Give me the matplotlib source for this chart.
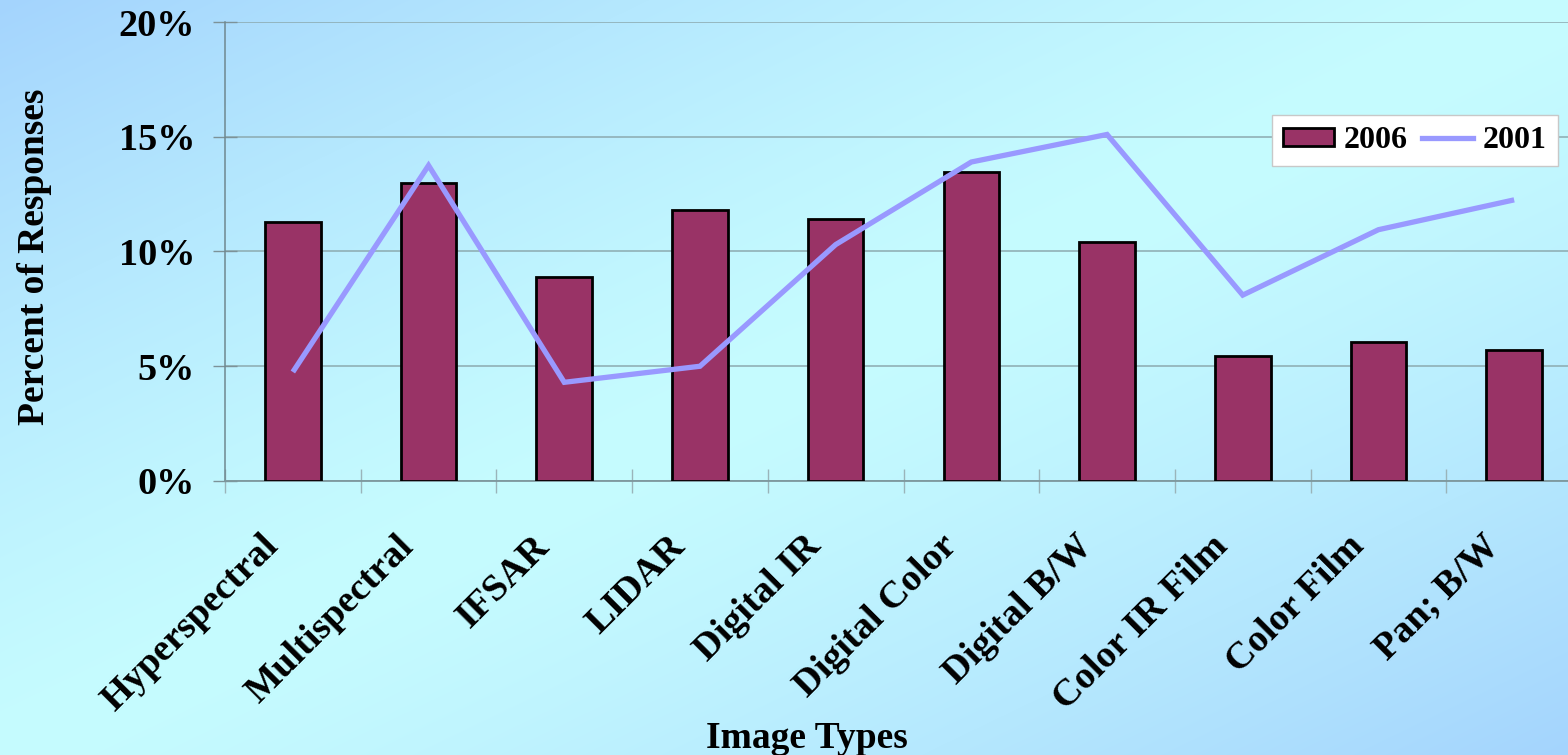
import numpy as np
import matplotlib.pyplot as plt
from matplotlib.patches import Patch
from matplotlib.lines import Line2D
from matplotlib import transforms

plt.rcParams['font.family'] = ['Liberation Serif', 'DejaVu Serif']
plt.rcParams['font.weight'] = 'bold'

# Dane
kategorie = ['Hyperspectral', 'Multispectral', 'IFSAR', 'LIDAR', 'Digital IR',
             'Digital Color', 'Digital B/W', 'Color IR Film', 'Color Film', 'Pan; B/W']
procent_2006 = [11.3, 13.0, 8.9, 11.8, 11.4, 13.45, 10.4, 5.45, 6.05, 5.7]
procent_2001 = [4.75, 13.75, 4.3, 5.0, 10.3, 13.9, 15.1, 8.1, 10.95, 12.25]
y_ticks = [0, 5, 10, 15, 20]
y_labels = ['0%', '5%', '10%', '15%', '20%']

fig = plt.figure(figsize=(15.68, 7.55), dpi=100)

# Tło z gradientem po przekątnej (niebieski w rogach, cyjan na środku)
bg = fig.add_axes([0, 0, 1, 1], zorder=-10)
h, w = 755, 1568
yy, xx = np.mgrid[0:h, 0:w]
t = np.abs(xx / w + yy / h - 1.0)
t = np.clip(t, 0, 1) ** 1.3
kolor_srodek = np.array([198, 252, 255]) / 255
kolor_rog = np.array([164, 212, 253]) / 255
img = kolor_srodek[None, None, :] + (kolor_rog - kolor_srodek)[None, None, :] * t[:, :, None]
bg.imshow(img, aspect='auto', extent=(0, 1, 0, 1))
bg.axis('off')

ax = fig.add_axes([225 / 1568, (755 - 481) / 755, 1357 / 1568, 459 / 755])
ax.set_facecolor('none')

x = np.arange(len(kategorie)) + 0.5
ax.bar(x, procent_2006, width=0.41, color='#993366', edgecolor='black', linewidth=2, zorder=3)
ax.plot(x, procent_2001, color='#9999ff', linewidth=3.8, zorder=4,
        solid_joinstyle='miter', solid_capstyle='butt')

ax.set_xlim(0, len(kategorie))
ax.set_ylim(0, 20)
ax.set_yticks(y_ticks)
ax.set_yticklabels(y_labels, fontsize=27.5, fontweight='bold')
ax.yaxis.grid(True, color='#8caaaf', linewidth=1.1, zorder=0)
ax.set_axisbelow(True)

ax.set_xticks(x)
ax.set_xticklabels([])
ax.tick_params(axis='x', which='major', length=0)
ax.set_xticks(np.arange(len(kategorie) + 1), minor=True)
ax.tick_params(axis='x', which='minor', direction='inout', length=17, color='#9ab4ba', width=1)
ax.tick_params(axis='y', direction='inout', length=17, color='#7d9298', width=1, pad=13)

for s in ['top', 'right']:
    ax.spines[s].set_visible(False)
ax.spines['left'].set_color('#6f8890')
ax.spines['bottom'].set_color('#7d979d')
ax.spines['left'].set_linewidth(1.1)
ax.spines['bottom'].set_linewidth(1.3)

# Etykiety kategorii pod kątem 45 stopni
tr = transforms.offset_copy(transforms.blended_transform_factory(ax.transData, ax.transAxes),
                            fig=fig, x=-20, y=-60, units='dots')
for xi, nazwa in zip(x, kategorie):
    ax.text(xi, 0, nazwa, transform=tr, rotation=45, rotation_mode='anchor',
            ha='right', va='center', fontsize=27.5, fontweight='bold')

fig.text(807 / 1568, 1 - 738 / 755, 'Image Types', ha='center', va='center',
         fontsize=27, fontweight='bold')
fig.text(35 / 1568, 1 - 257 / 755, 'Percent of Responses', ha='center', va='center',
         rotation=90, fontsize=27, fontweight='bold')

uchwyty = [Patch(facecolor='#993366', edgecolor='black', linewidth=2, label='2006'),
           Line2D([0], [0], color='#9999ff', linewidth=3.8, label='2001')]
leg = ax.legend(handles=uchwyty, loc='upper left', ncol=2,
                bbox_to_anchor=(1272 / 1568, 1 - 115 / 755), bbox_transform=fig.transFigure,
                borderaxespad=0, fancybox=False, framealpha=1, edgecolor='#c8c8c8',
                prop={'size': 23, 'weight': 'bold'}, handlelength=1.6, handleheight=0.5,
                handletextpad=0.3, columnspacing=0.45, borderpad=0.35)
leg.get_frame().set_linewidth(1)

plt.savefig('out.png', dpi=100)
